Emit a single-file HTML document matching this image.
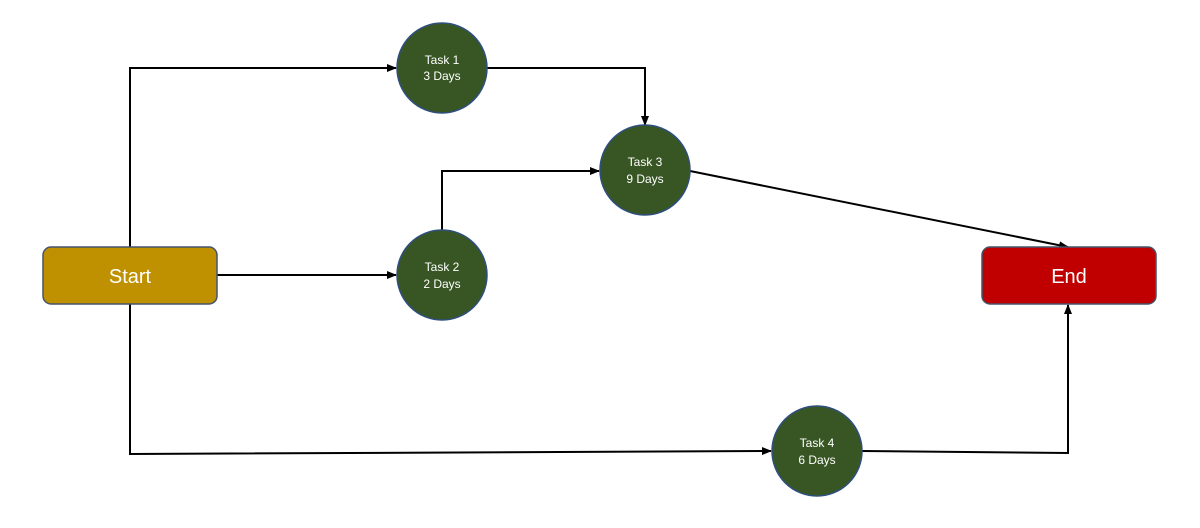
<!DOCTYPE html>
<html><head><meta charset="utf-8"><style>
html,body{margin:0;padding:0;background:#fff;}
svg{display:block;}
text{font-family:"Liberation Sans",sans-serif;fill:#fff;}
</style></head><body>
<svg width="1200" height="528" viewBox="0 0 1200 528" xmlns="http://www.w3.org/2000/svg">
<defs>
<marker id="a" markerWidth="10" markerHeight="8" refX="9" refY="4" orient="auto" markerUnits="userSpaceOnUse">
<path d="M0,0 L10,4 L0,8 z" fill="#000"/>
</marker>
</defs>
<g fill="none" stroke="#000" stroke-width="2">
<polyline points="130,247 130,68 396,68" marker-end="url(#a)"/>
<polyline points="487,68 645,68 645,125" marker-end="url(#a)"/>
<polyline points="442,230 442,171 599,171" marker-end="url(#a)"/>
<polyline points="217,275 396,275" marker-end="url(#a)"/>
<polyline points="690,171 1068,247" marker-end="url(#a)"/>
<polyline points="130,304 130,454 771,451" marker-end="url(#a)"/>
<polyline points="862,451 1068,453 1068,305" marker-end="url(#a)"/>
</g>
<rect x="43" y="247" width="174" height="57" rx="8" fill="#BF9000" stroke="#44546A" stroke-width="1.5"/>
<text x="130" y="283" font-size="20" text-anchor="middle">Start</text>
<rect x="982" y="247" width="174" height="57" rx="8" fill="#C00000" stroke="#44546A" stroke-width="1.5"/>
<text x="1069" y="283" font-size="20" text-anchor="middle">End</text>
<g fill="#375623" stroke="#2F4F7F" stroke-width="1.5">
<circle cx="442" cy="68" r="45"/>
<circle cx="442" cy="275" r="45"/>
<circle cx="645" cy="170" r="45"/>
<circle cx="817" cy="451" r="45"/>
</g>
<g font-size="12" text-anchor="middle">
<text x="442" y="64">Task 1</text><text x="442" y="80">3 Days</text>
<text x="442" y="271">Task 2</text><text x="442" y="288">2 Days</text>
<text x="645" y="166">Task 3</text><text x="645" y="183">9 Days</text>
<text x="817" y="447">Task 4</text><text x="817" y="464">6 Days</text>
</g>
</svg>
</body></html>
